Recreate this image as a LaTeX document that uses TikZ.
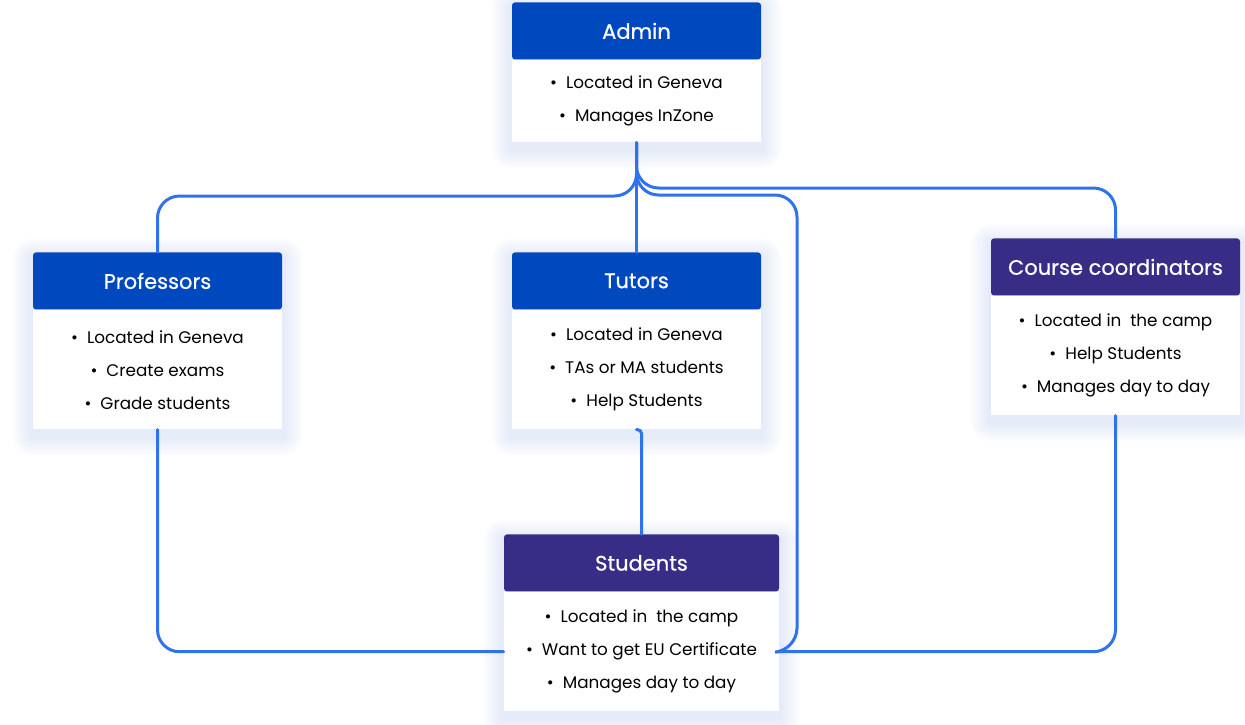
\documentclass[tikz,border=0pt]{standalone}
\usepackage{fontspec}
\setmainfont{Poppins}
\newfontfamily\headfont{Poppins}[FakeBold=0.6]
\usetikzlibrary{positioning,backgrounds}
\definecolor{headblue}{RGB}{0,72,190}
\definecolor{headpurple}{RGB}{55,45,135}
\definecolor{linkblue}{RGB}{47,114,238}
\definecolor{glow}{RGB}{160,180,230}
\tikzset{
  head/.style={fill=headblue, text=white, minimum width=124.5pt, minimum height=28.5pt,
    inner sep=0pt, anchor=north, font=\headfont\fontsize{10.5}{12}\selectfont,
    rounded corners=1.5pt},
  body/.style={fill=white, minimum width=124.5pt, inner sep=0pt, align=center,
    font=\fontsize{8.4}{16.5}\selectfont},
  link/.style={draw=linkblue, line width=1.5pt, line cap=round, rounded corners=11pt},
}
% soft glow behind a box
\newcommand{\boxglow}[2]{%
  \foreach \s in {1,...,10}
    \fill[glow, opacity=0.03, rounded corners=\s pt]
      ([xshift=-\s pt, yshift=\s pt-3pt]#1.north west) rectangle ([xshift=\s pt, yshift=-\s pt-3pt]#2.south east);
}
\begin{document}
\begin{tikzpicture}[x=0.5pt, y=-0.5pt]
    \useasboundingbox (0,0) rectangle (1245,724);

    % boxes
    \node[head] (adminhead) at (636.5,2) {Admin};
    \node[body, minimum height=41pt, below=0pt of adminhead] (adminbody)
        {•\ \ Located in Geneva\\ •\ \ Manages InZone};

    \node[head] (profhead) at (157.5,252) {Professors};
    \node[body, minimum height=59.5pt, below=0pt of profhead] (profbody)
        {•\ \ Located in Geneva\\ •\ \ Create exams\\ •\ \ Grade students};

    \node[head] (tutorhead) at (636.5,252) {Tutors};
    \node[body, minimum height=59.5pt, below=0pt of tutorhead] (tutorbody)
        {•\ \ Located in Geneva\\ •\ \ TAs or MA students\\ •\ \ Help Students};

    \node[head, fill=headpurple] (coordhead) at (1115.5,238) {Course coordinators};
    \node[body, minimum height=59.5pt, below=0pt of coordhead] (coordbody)
        {•\ \ Located in\ \ the camp\\ •\ \ Help Students\\ •\ \ Manages day to day};

    \node[head, fill=headpurple, minimum width=137.5pt] (studhead) at (641.5,534) {Students};
    \node[body, minimum width=137.5pt, minimum height=59.5pt, below=0pt of studhead] (studbody)
        {•\ \ Located in\ \ the camp\\ •\ \ Want to get EU Certificate\\ •\ \ Manages day to day};

    \begin{scope}[on background layer]
        \boxglow{adminhead}{adminbody}
        \boxglow{profhead}{profbody}
        \boxglow{tutorhead}{tutorbody}
        \boxglow{coordhead}{coordbody}
        \boxglow{studhead}{studbody}
    \end{scope}

    % connectors
    \draw[link] (adminbody.south) -- (tutorhead.north);
    \draw[link] (adminbody.south) -- (636.5,196) -- (157.5,196) -- (profhead.north);
    \draw[link] (adminbody.south) -- (636.5,188) -- (1115.5,188) -- (coordhead.north);
    \draw[link] (adminbody.south) -- (636.5,195) -- (797,195) -- (797,650)
        [rounded corners=5pt] -- (studbody.east);
    \draw[link] (profbody.south) |- (studbody.west);
    \draw[link] (coordbody.south) |- (studbody.east);
    \draw[link, rounded corners=2pt] (tutorbody.south) -| (studhead.north);
\end{tikzpicture}
\end{document}
